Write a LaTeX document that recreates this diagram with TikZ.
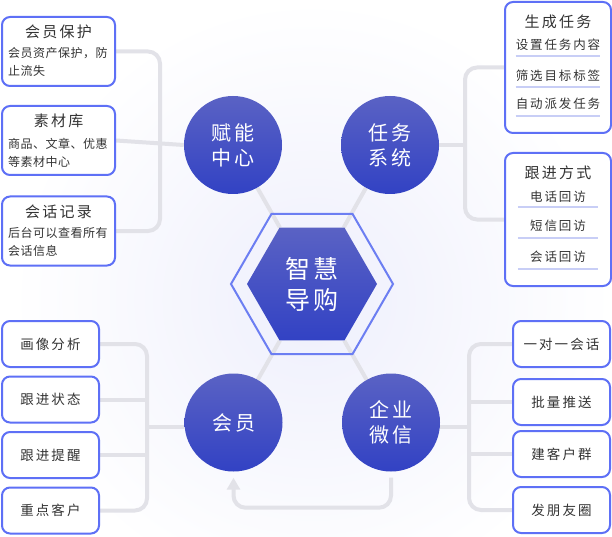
\documentclass[tikz,border=0pt]{standalone}
\usepackage{fontspec}
\usetikzlibrary{positioning, shapes.geometric, arrows.meta, backgrounds}
\newfontfamily\cjk[LetterSpace=15]{Noto Sans CJK SC}
\newfontfamily\cjknarrow[LetterSpace=4]{Noto Sans CJK SC}
\newcommand{\titfont}{\cjk\fontsize{15}{18}\selectfont}
\newcommand{\descfont}{\cjknarrow\fontsize{12}{18}\selectfont}
\newcommand{\itemfont}{\cjk\fontsize{13.5}{16}\selectfont}
\newcommand{\listfont}{\cjk\fontsize{12.5}{16}\selectfont}
\newcommand{\ballfont}{\cjk\fontsize{20}{25}\selectfont}
\newcommand{\hexfont}{\cjk\fontsize{25}{31}\selectfont}
\definecolor{boxblue}{RGB}{94,112,246}
\definecolor{hexblue}{RGB}{108,126,242}
\definecolor{linegray}{RGB}{226,226,232}
\definecolor{balltop}{RGB}{90,98,196}
\definecolor{ballbot}{RGB}{50,66,196}
\definecolor{ulblue}{RGB}{200,206,246}
\definecolor{txtgray}{RGB}{51,51,51}
\definecolor{glow}{RGB}{238,239,252}
\tikzset{
    bluebox/.style={rectangle, draw=boxblue, line width=2pt, rounded corners=8pt, fill=white, inner sep=0pt},
    smallbox/.style={bluebox, minimum width=97pt, minimum height=46pt, text=txtgray, font=\itemfont},
    ball/.style={circle, top color=balltop, bottom color=ballbot, minimum size=98pt, inner sep=0pt, text=white, font=\ballfont, align=center},
    hexnode/.style={regular polygon, regular polygon sides=6, inner sep=0pt},
    con/.style={draw=linegray, line width=4pt, rounded corners=12pt},
    conarrow/.style={con, -{Triangle[length=12pt,width=13pt]}},
    mylabel/.style={text=txtgray, inner sep=0pt},
    itemlabel/.style={mylabel, font=\listfont, minimum width=80pt},
    uline/.style={draw=ulblue, line width=2pt}
}

\begin{document}
\begin{tikzpicture}[x=1pt, y=-1pt]
    \useasboundingbox (0,0) rectangle (612,537);

        % ------------------
        % nodes
        % ------------------

        \node[bluebox, minimum width=113pt, minimum height=69pt] (protect) at (58.5,51.5) {};
        \node[mylabel, font=\titfont] at (58.5,32) {会员保护};
        \node[mylabel, font=\descfont, align=left, anchor=west] at (8,62) {会员资产保护，防\\止流失};

        \node[bluebox, minimum width=113pt, minimum height=69pt] (library) at (58.5,140.5) {};
        \node[mylabel, font=\titfont] at (58.5,121) {素材库};
        \node[mylabel, font=\descfont, align=left, anchor=west] at (8,153) {商品、文章、优惠\\等素材中心};

        \node[bluebox, minimum width=113pt, minimum height=69pt] (record) at (58.5,231) {};
        \node[mylabel, font=\titfont] at (58.5,212) {会话记录};
        \node[mylabel, font=\descfont, align=left, anchor=west] at (8,242) {后台可以查看所有\\会话信息};

        \node[bluebox, minimum width=106pt, minimum height=131pt] (task) at (558,67.5) {};
        \node[mylabel, font=\titfont] at (558,22) {生成任务};
        \node[itemlabel] (setup) at (558,45) {设置任务内容};
        \node[itemlabel] (filter) at (558,76) {筛选目标标签};
        \node[itemlabel] (dispatch) at (558,104) {自动派发任务};

        \node[bluebox, minimum width=106pt, minimum height=133pt] (follow) at (558,219.5) {};
        \node[mylabel, font=\titfont] at (558,173) {跟进方式};
        \node[itemlabel] (phone) at (558,197) {电话回访};
        \node[itemlabel] (sms) at (558,226) {短信回访};
        \node[itemlabel] (talk) at (558,257) {会话回访};

        \node[smallbox] (portrait) at (50.5,344) {画像分析};
        \node[smallbox, below=7.5pt of portrait] (state) {跟进状态};
        \node[smallbox, below=7.5pt of state] (remind) {跟进提醒};
        \node[smallbox, below=7.5pt of remind] (focus) {重点客户};

        \node[smallbox] (single) at (561.5,344) {一对一会话};
        \node[smallbox] (push) at (561.5,402) {批量推送};
        \node[smallbox] (group) at (561.5,454) {建客户群};
        \node[smallbox] (moments) at (561.5,510) {发朋友圈};

        \node[ball] (fuel) at (233,145) {赋能\\中心};
        \node[ball] (tasksys) at (390,145) {任务\\系统};
        \node[ball] (member) at (233.5,422.5) {会员};
        \node[ball] (wecom) at (391,422.5) {企业\\微信};

        \node[hexnode, draw=hexblue, line width=2pt, minimum size=162pt] (hexout) at (312,284) {};
        \node[hexnode, top color=balltop, bottom color=ballbot, minimum size=130pt, text=white, font=\hexfont, align=center] (hexin) at (312,284) {智慧\\导购};

        \coordinate (hubTL) at (160,145);
        \coordinate (hubTR) at (465,145);
        \coordinate (hubBL) at (147,427);
        \coordinate (hubBR) at (469,427);

        % ------------------
        % underlines
        % ------------------

        \draw[uline] ([yshift=-11pt]setup.west) -- ([yshift=-11pt]setup.east);
        \draw[uline] ([yshift=-11pt]filter.west) -- ([yshift=-11pt]filter.east);
        \draw[uline] ([yshift=-12pt]dispatch.west) -- ([yshift=-12pt]dispatch.east);
        \draw[uline] ([yshift=-10pt]phone.west) -- ([yshift=-10pt]phone.east);
        \draw[uline] ([yshift=-12pt]sms.west) -- ([yshift=-12pt]sms.east);
        \draw[uline] ([yshift=-12pt]talk.west) -- ([yshift=-12pt]talk.east);

        % ------------------
        % arrows
        % ------------------

        \begin{scope}[on background layer]
            \fill[white] (0,0) rectangle (612,537);
            \shade[inner color=glow, outer color=white] (312,300) circle[radius=300pt];

            \draw[con] (protect.east) -| (hubTL) |- (record.east);
            \draw[con] (library.east) -- (fuel.west);

            \draw[con] (task.west) -| (hubTR) |- (follow.west);
            \draw[con] (tasksys.east) -- (hubTR);

            \draw[con] (portrait.east) -| (hubBL) |- (focus.east);
            \draw[con] (state.east) -- (state.east -| hubBL);
            \draw[con] (remind.east) -- (remind.east -| hubBL);
            \draw[con] (hubBL) -- (hubBL -| member.west);

            \draw[con] (single.west) -| (hubBR) |- (moments.west);
            \draw[con] (push.west) -- (push.west -| hubBR);
            \draw[con] (group.west) -- (group.west -| hubBR);
            \draw[con] (hubBR) -- (hubBR -| wecom.east);

            \draw[con] (hexin) -- (fuel);
            \draw[con] (hexin) -- (tasksys);
            \draw[con] (hexin) -- (member);
            \draw[con] (hexin) -- (wecom);
        \end{scope}

        \draw[conarrow, shorten <=6pt, shorten >=6pt] (wecom.south) -- ++(0,36) -| (member.south);

\end{tikzpicture}
\end{document}
